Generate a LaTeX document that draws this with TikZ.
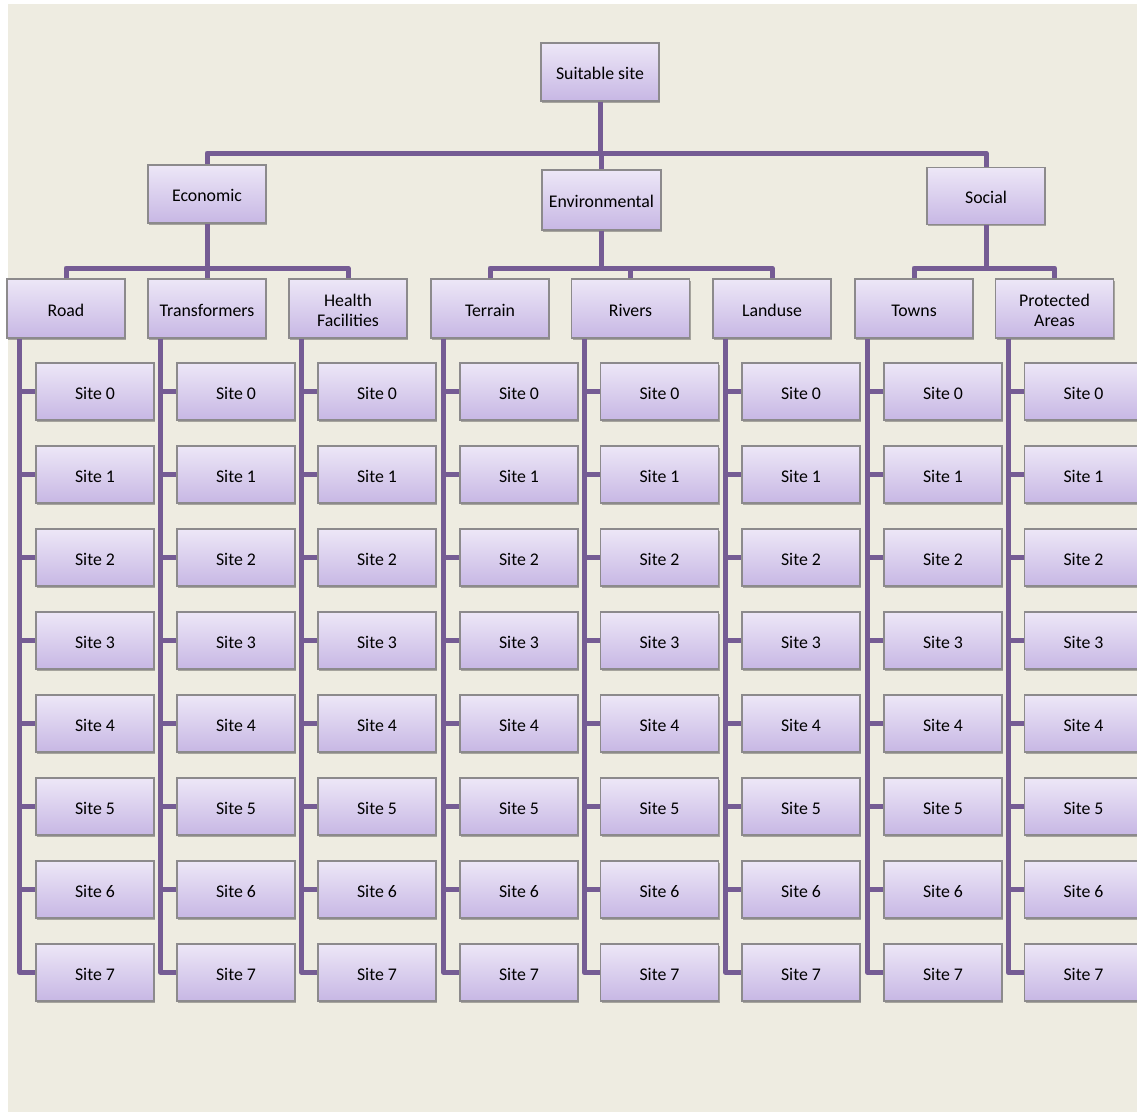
\documentclass[tikz,border=0pt]{standalone}
\usepackage{fontspec}
\setmainfont{Carlito}
\usetikzlibrary{shadows,calc}
\definecolor{bgc}{RGB}{238,236,225}
\definecolor{conncol}{RGB}{117,92,148}
\definecolor{boxtop}{RGB}{237,231,247}
\definecolor{boxbot}{RGB}{199,183,228}
\definecolor{boxedge}{RGB}{140,138,140}
\tikzset{
  pbox/.style={draw=boxedge, line width=1.4pt, top color=boxtop, bottom color=boxbot,
    minimum width=118pt, minimum height=58pt, inner sep=0pt, align=center,
    font=\fontsize{17.8}{20}\selectfont, text height=15pt, text depth=0pt,
    drop shadow={shadow xshift=1.2pt, shadow yshift=-1.6pt, opacity=0.3, fill=black}},
  twoline/.style={text height=36.5pt, text depth=0pt},
  conn/.style={draw=conncol, line width=5pt, line join=round}
}
\begin{document}
\begin{tikzpicture}[x=1pt,y=-1pt]
\useasboundingbox (0,0) rectangle (1137,1112);
\fill[white] (0,0) rectangle (1137,1112);
\fill[bgc] (8,4) rectangle (1137,1112);

% top levels
\node[pbox] (top) at (600,72) {Suitable site};
\node[pbox] (econ) at (207,194) {Economic};
\node[pbox, minimum width=119pt, minimum height=60pt] (env) at (601.5,200) {Environmental};
\node[pbox, minimum height=57pt] (soc) at (986,196) {Social};

% categories
\def\cy{308.5}
\node[pbox, minimum height=59pt] (c1) at (66,\cy) {Road};
\node[pbox, minimum height=59pt] (c2) at (207,\cy) {Transformers};
\node[pbox, twoline, minimum height=59pt] (c3) at (348,\cy) {Health\\Facilities};
\node[pbox, minimum height=59pt] (c4) at (490,\cy) {Terrain};
\node[pbox, minimum height=59pt] (c5) at (630.5,\cy) {Rivers};
\node[pbox, minimum height=59pt] (c6) at (772,\cy) {Landuse};
\node[pbox, minimum height=59pt] (c7) at (914,\cy) {Towns};
\node[pbox, twoline, minimum height=59pt] (c8) at (1054.5,\cy) {Protected\\Areas};

% connectors top
\coordinate (j1) at (600,153);
\draw[conn] (top.south) -- (j1);
\draw[conn] (econ.north) -- (econ.north |- j1) -| (soc.north);
\draw[conn] (j1 -| env.north) -- (env.north);

% connectors level 3
\coordinate (j2) at (0,268);
\draw[conn] (econ.south) -- (econ.south |- c2.north);
\draw[conn] (c1.north) -- (c1.north |- j2) -| (c3.north);
\draw[conn] (env.south) -- (env.south |- j2);
\draw[conn] (c4.north) -- (c4.north |- j2) -| (c6.north);
\draw[conn] (c5.north |- j2) -- (c5.north);
\draw[conn] (soc.south) -- (soc.south |- j2);
\draw[conn] (c7.north) -- (c7.north |- j2) -| (c8.north);

% sites
\foreach \i in {1,...,8}{
  \foreach \j in {0,...,7}{
    \node[pbox, minimum height=57pt] (s\i-\j) at ($(c\i.center)+(29,83+83*\j)$) {Site \j};
  }
  \coordinate (v\i) at ($(c\i.south west)+(13.5,0)$);
  \draw[conn] (v\i) |- (s\i-7.west);
  \foreach \j in {0,...,6}{
    \draw[conn] (v\i |- s\i-\j.west) -- (s\i-\j.west);
  }
}
\end{tikzpicture}
\end{document}
